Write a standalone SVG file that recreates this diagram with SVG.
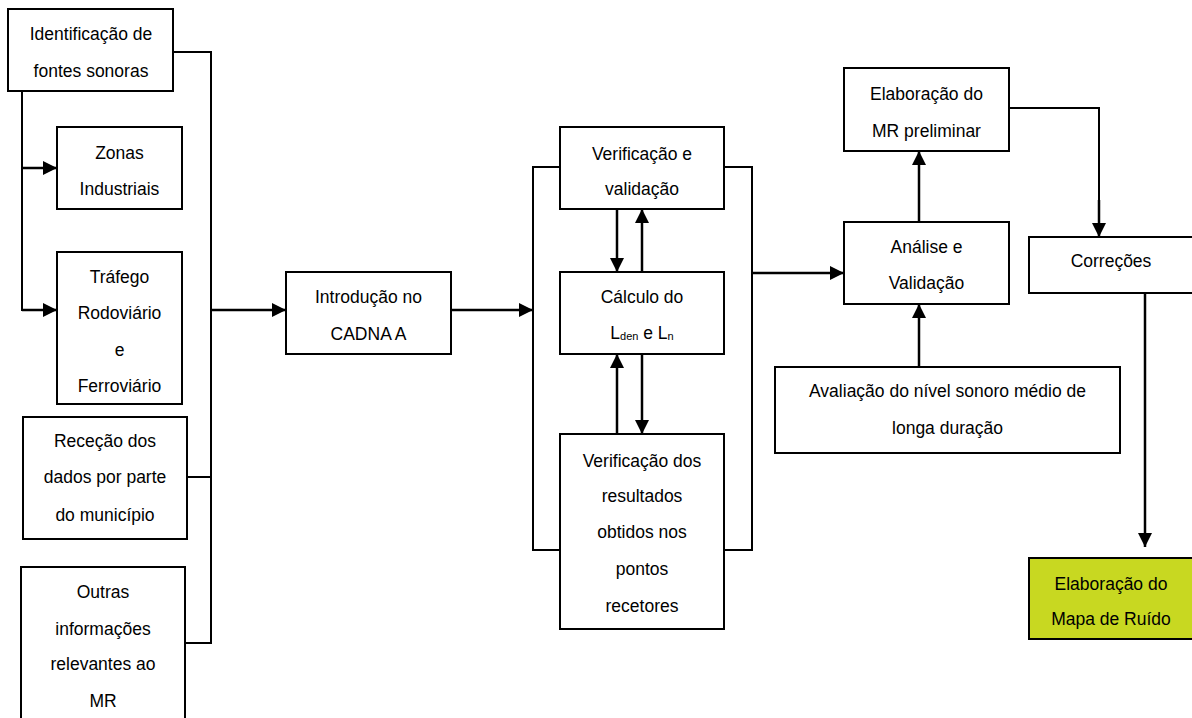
<svg xmlns="http://www.w3.org/2000/svg" width="1192" height="718" viewBox="0 0 1192 718">
<defs>
<marker id="arr" markerUnits="userSpaceOnUse" markerWidth="15" markerHeight="14" refX="14" refY="7" orient="auto">
<path d="M0,0 L14,7 L0,14 z" fill="#000"/>
</marker>
<style>
.box{fill:#fff;stroke:#000;stroke-width:2}
.green{fill:#c8d821;stroke:#000;stroke-width:2}
.t{font-family:"Liberation Sans",Arial,sans-serif;font-size:17.5px;fill:#000;text-anchor:middle}
.sub{font-size:11px}
.c{fill:none;stroke:#000;stroke-width:2}
.a{fill:none;stroke:#000;stroke-width:2.5;marker-end:url(#arr)}
</style>
</defs>
<rect width="1192" height="718" fill="#fff"/>
<g id="connectors">
<path class="c" d="M22,91 V310 H45"/>
<path class="a" d="M22,310 H57"/>
<path class="a" d="M22,168 H57"/>
<path class="c" d="M173,52 H211 V643 H185"/>
<path class="c" d="M187,477 H211"/>
<path class="a" d="M211,310 H286"/>
<path class="a" d="M451,310 H533"/>
<path class="c" d="M560,167 H533 V550 H560"/>
<path class="c" d="M724,167 H752 V550 H724"/>
<path class="a" d="M752,273 H844"/>
<path class="a" d="M617,209 V272"/>
<path class="a" d="M642,272 V209"/>
<path class="a" d="M617,434 V354"/>
<path class="a" d="M642,354 V434"/>
<path class="a" d="M919,222 V151"/>
<path class="c" d="M1009,108 H1099 V220"/>
<path class="a" d="M1099,200 V237"/>
<path class="a" d="M919,367 V304"/>
<path class="a" d="M1145,293 V547"/>
</g>
<g id="n1"><rect class="box" x="8" y="9" width="165" height="82"/>
<text class="t" x="91" y="40">Identificação de</text><text class="t" x="91" y="77">fontes sonoras</text></g>
<g id="n2"><rect class="box" x="57" y="127" width="125" height="82"/>
<text class="t" x="119.5" y="159">Zonas</text><text class="t" x="119.5" y="195">Industriais</text></g>
<g id="n3"><rect class="box" x="57" y="252" width="125" height="152"/>
<text class="t" x="119.5" y="283">Tráfego</text><text class="t" x="119.5" y="319">Rodoviário</text><text class="t" x="119.5" y="356">e</text><text class="t" x="119.5" y="392">Ferroviário</text></g>
<g id="n4"><rect class="box" x="23" y="417" width="164" height="122"/>
<text class="t" x="105" y="447">Receção dos</text><text class="t" x="105" y="483">dados por parte</text><text class="t" x="105" y="521">do município</text></g>
<g id="n5"><rect class="box" x="21" y="567" width="164" height="160"/>
<text class="t" x="103" y="598">Outras</text><text class="t" x="103" y="635">informações</text><text class="t" x="103" y="670">relevantes ao</text><text class="t" x="103" y="707">MR</text></g>
<g id="n6"><rect class="box" x="286" y="272" width="165" height="82"/>
<text class="t" x="368.5" y="303">Introdução no</text><text class="t" x="368.5" y="340">CADNA A</text></g>
<g id="n7"><rect class="box" x="560" y="127" width="164" height="82"/>
<text class="t" x="642" y="160">Verificação e</text><text class="t" x="642" y="195">validação</text></g>
<g id="n8"><rect class="box" x="560" y="272" width="164" height="82"/>
<text class="t" x="642" y="303">Cálculo do</text><text class="t" x="642" y="339">L<tspan class="sub" dy="1">den</tspan><tspan dy="-1"> e L</tspan><tspan class="sub" dy="1">n</tspan></text></g>
<g id="n9"><rect class="box" x="560" y="434" width="164" height="195"/>
<text class="t" x="642" y="467">Verificação dos</text><text class="t" x="642" y="502">resultados</text><text class="t" x="642" y="538">obtidos nos</text><text class="t" x="642" y="575">pontos</text><text class="t" x="642" y="612">recetores</text></g>
<g id="n10"><rect class="box" x="844" y="68" width="165" height="83"/>
<text class="t" x="926.5" y="100">Elaboração do</text><text class="t" x="926.5" y="137">MR preliminar</text></g>
<g id="n11"><rect class="box" x="844" y="222" width="165" height="82"/>
<text class="t" x="926.5" y="253">Análise e</text><text class="t" x="926.5" y="289">Validação</text></g>
<g id="n12"><rect class="box" x="1029" y="237" width="175" height="56"/>
<text class="t" x="1111" y="267">Correções</text></g>
<g id="n13"><rect class="box" x="775" y="367" width="345" height="86"/>
<text class="t" x="947.5" y="397">Avaliação do nível sonoro médio de</text><text class="t" x="947.5" y="434">longa duração</text></g>
<g id="n14"><rect class="green" x="1029" y="558" width="175" height="81"/>
<text class="t" x="1111" y="590">Elaboração do</text><text class="t" x="1111" y="625">Mapa de Ruído</text></g>
</svg>
